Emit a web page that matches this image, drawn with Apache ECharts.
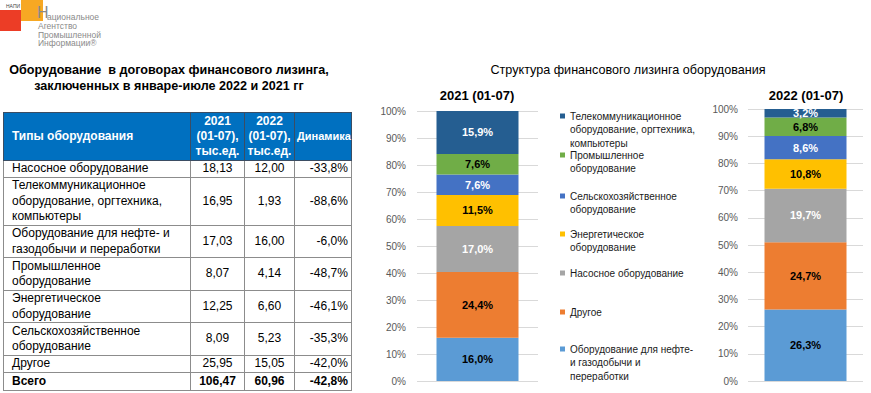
<!DOCTYPE html>
<html>
<head>
<meta charset="utf-8">
<script src="https://cdn.jsdelivr.net/npm/echarts@6/dist/echarts.min.js"></script>
<style>
html,body{margin:0;padding:0;background:#fff;}
#wrap{position:relative;width:871px;height:393px;overflow:hidden;}
#chart{position:absolute;left:0;top:0;width:871px;height:393px;}
#tbl{position:absolute;left:3px;top:112px;border-collapse:collapse;table-layout:fixed;
  font-family:"Liberation Sans",Arial,sans-serif;font-size:12px;color:#000;}
#tbl td,#tbl th{border:1px solid #8c8c8c;padding:0;line-height:15.5px;vertical-align:middle;white-space:pre-line;}
#tbl th{background:#0070C0;color:#fff;font-weight:bold;font-size:12px;line-height:15px;border-color:#3b4d63;}
#tbl th.name{text-align:left;padding-left:8px;}
#tbl th.num{text-align:center;}
#tbl th.dyn{text-align:left;padding-left:2px;font-size:11px;white-space:nowrap;}
#tbl td.name{text-align:left;padding-left:8px;}
#tbl td.num{text-align:center;}
#tbl td.dyn{text-align:right;padding-right:3px;}
#tbl tr.total td{font-weight:bold;}
</style>
</head>
<body>
<div id="wrap">
  <div id="chart"></div>
  <table id="tbl"></table>
</div>
<script>
// ---------- DATA ----------
const periods = ['2021 (01-07)', '2022 (01-07)'];
// stacked order bottom -> top
const categories = [
  'Оборудование для нефте- и газодобычи и переработки',
  'Другое',
  'Насосное оборудование',
  'Энергетическое оборудование',
  'Сельскохозяйственное оборудование',
  'Промышленное оборудование',
  'Телекоммуникационное оборудование, оргтехника, компьютеры'
];
const legendLabels = [
  'Оборудование для нефте-\nи газодобычи и\nпереработки',
  'Другое',
  'Насосное оборудование',
  'Энергетическое\nоборудование',
  'Сельскохозяйственное\nоборудование',
  'Промышленное\nоборудование',
  'Телекоммуникационное\nоборудование, оргтехника,\nкомпьютеры'
];
const share2021 = [16.0, 24.4, 17.0, 11.5, 7.6, 7.6, 15.9];
const share2022 = [26.3, 24.7, 19.7, 10.8, 8.6, 6.8, 3.2];

// table
const tableHeader = ['Типы оборудования', '2021\n(01-07),\nтыс.ед.', '2022\n(01-07),\nтыс.ед.', 'Динамика'];
const tableTypes = [
  'Насосное оборудование',
  'Телекоммуникационное\nоборудование, оргтехника,\nкомпьютеры',
  'Оборудование для нефте- и\nгазодобычи и переработки',
  'Промышленное\nоборудование',
  'Энергетическое\nоборудование',
  'Сельскохозяйственное\nоборудование',
  'Другое'
];
const units2021 = [18.13, 16.95, 17.03, 8.07, 12.25, 8.09, 25.95];
const units2022 = [12.00, 1.93, 16.00, 4.14, 6.60, 5.23, 15.05];
const dynamics = [-33.8, -88.6, -6.0, -48.7, -46.1, -35.3, -42.0];
const totalLabel = 'Всего';
const total2021 = 106.47;
const total2022 = 60.96;
const totalDynamics = -42.8;

const mainTitle = 'Оборудование  в договорах финансового лизинга,\nзаключенных в январе-июле 2022 и 2021 гг';
const chartTitle = 'Структура финансового лизинга оборудования';
const yTicks = [0, 10, 20, 30, 40, 50, 60, 70, 80, 90, 100];
const logoLines = ['ациональное', 'Агентство', 'Промышленной', 'Информации®'];

// ---------- STYLE ----------
const colors = ['#5B9BD5', '#ED7D31', '#A5A5A5', '#FFC000', '#4472C4', '#70AD47', '#255E91'];
const labelColors = ['#000', '#000', '#fff', '#000', '#fff', '#000', '#fff'];
const FONT = '"Liberation Sans", Arial, sans-serif';
const NARROW = '"Liberation Sans Narrow", "Liberation Sans", sans-serif';
const rowHeights = [17, 48, 32, 33, 32, 33, 17, 18];
const legendLineHeight = 13.5;
const legendFirstLineY = [349, 312, 273, 234, 196, 155, 116]; // per category (bottom->top order)
const logoLineTop = [12, 21.5, 30, 38.5];
const logoLineLeft = [47, 38, 38, 38];

const fmt = (v, d) => v.toFixed(d).replace('.', ',');

// ---------- TABLE ----------
(function buildTable() {
  const t = document.getElementById('tbl');
  let html = '<colgroup><col style="width:187px"><col style="width:54px"><col style="width:50px"><col style="width:54px"></colgroup>';
  html += '<tr style="height:48px"><th class="name">' + tableHeader[0] + '</th><th class="num">' + tableHeader[1] +
    '</th><th class="num">' + tableHeader[2] + '</th><th class="dyn">' + tableHeader[3] + '</th></tr>';
  tableTypes.forEach((name, i) => {
    html += '<tr style="height:' + rowHeights[i] + 'px"><td class="name">' + name + '</td><td class="num">' + fmt(units2021[i], 2) +
      '</td><td class="num">' + fmt(units2022[i], 2) + '</td><td class="dyn">' + fmt(dynamics[i], 1) + '%</td></tr>';
  });
  html += '<tr class="total" style="height:' + rowHeights[7] + 'px"><td class="name">' + totalLabel + '</td><td class="num">' + fmt(total2021, 2) +
    '</td><td class="num">' + fmt(total2022, 2) + '</td><td class="dyn">' + fmt(totalDynamics, 1) + '%</td></tr>';
  t.innerHTML = html;
})();

// ---------- CHART ----------
const chart = echarts.init(document.getElementById('chart'), null, { renderer: 'svg' });

const grids = [
  { left: 417, top: 111, width: 121, height: 270 },
  { left: 748, top: 109, width: 115, height: 272 }
];

const series = [];
[share2021, share2022].forEach((arr, gi) => {
  categories.forEach((name, i) => {
    series.push({
      type: 'bar',
      name: name,
      stack: 'st' + gi,
      xAxisIndex: gi,
      yAxisIndex: gi,
      data: [arr[i]],
      barWidth: 82,
      itemStyle: { color: colors[i] },
      label: {
        show: true,
        position: 'inside',
        formatter: p => fmt(p.value, 1) + '%',
        color: labelColors[i],
        fontWeight: 'bold',
        fontSize: 11,
        fontFamily: FONT,
        textBorderWidth: 0
      },
      emphasis: { disabled: true },
      animation: false
    });
  });
});

// one legend per item so that every item's first line sits where the reference puts it;
// leading empty lines keep the marker level with the first text line
const legends = categories.map((name, i) => {
  const lines = legendLabels[i].split('\n').length;
  const L = legendLineHeight;
  const text = '\n'.repeat(lines - 1) + legendLabels[i];
  return {
    data: [name],
    left: 560,
    top: legendFirstLineY[i] - (2 * lines - 1) * L / 2,
    padding: 0,
    orient: 'vertical',
    icon: 'rect',
    itemWidth: 5,
    itemHeight: 5,
    selectedMode: false,
    formatter: () => text,
    textStyle: {
      fontFamily: FONT,
      fontSize: 10,
      color: '#1a1a1a',
      lineHeight: L
    }
  };
});

const option = {
  animation: false,
  backgroundColor: '#fff',
  textStyle: { fontFamily: FONT },
  title: [
    {
      text: mainTitle, left: 169, top: 62, textAlign: 'center', padding: 0,
      textStyle: { fontFamily: FONT, fontSize: 12.6, fontWeight: 'bold', color: '#000', lineHeight: 16 }
    },
    {
      text: chartTitle, left: 628, top: 63, textAlign: 'center', padding: 0,
      textStyle: { fontFamily: FONT, fontSize: 12.6, fontWeight: 'normal', color: '#000' }
    },
    {
      text: periods[0], left: 477, top: 89, textAlign: 'center', padding: 0,
      textStyle: { fontFamily: FONT, fontSize: 13, fontWeight: 'bold', color: '#000' }
    },
    {
      text: periods[1], left: 806, top: 89, textAlign: 'center', padding: 0,
      textStyle: { fontFamily: FONT, fontSize: 13, fontWeight: 'bold', color: '#000' }
    }
  ],
  legend: legends,
  grid: grids,
  xAxis: [0, 1].map(gi => ({
    type: 'category', gridIndex: gi, data: [periods[gi]],
    axisLine: { show: false }, axisTick: { show: false }, axisLabel: { show: false }, splitLine: { show: false }
  })),
  yAxis: [0, 1].map(gi => ({
    type: 'value', gridIndex: gi,
    min: yTicks[0], max: yTicks[yTicks.length - 1], interval: yTicks[1] - yTicks[0],
    axisLine: { show: false }, axisTick: { show: false },
    axisLabel: { formatter: '{value}%', color: '#595959', fontSize: 10, fontFamily: FONT, margin: gi === 0 ? 11 : 10 },
    splitLine: { lineStyle: { color: '#D9D9D9', width: 1 } }
  })),
  series: series,
  graphic: [
    { type: 'rect', shape: { x: 0, y: 10, width: 21, height: 21 }, style: { fill: '#EC3D26' } },
    { type: 'rect', shape: { x: 21, y: 0, width: 22, height: 21 }, style: { fill: '#F7A823' } },
    { type: 'text', x: 6, y: 3, style: { text: 'НАПИ', fontSize: 5, fill: '#444', fontFamily: FONT } },
    { type: 'text', x: 37, y: 4, style: { text: 'Н', fontSize: 16, fill: '#8a8a8a', fontFamily: NARROW } }
  ].concat(logoLines.map((s, i) => ({
    type: 'text', x: logoLineLeft[i], y: logoLineTop[i],
    style: { text: s, fontSize: 8.5, fill: '#8a8a8a', fontFamily: NARROW }
  })))
};
chart.setOption(option);
</script>
</body>
</html>
